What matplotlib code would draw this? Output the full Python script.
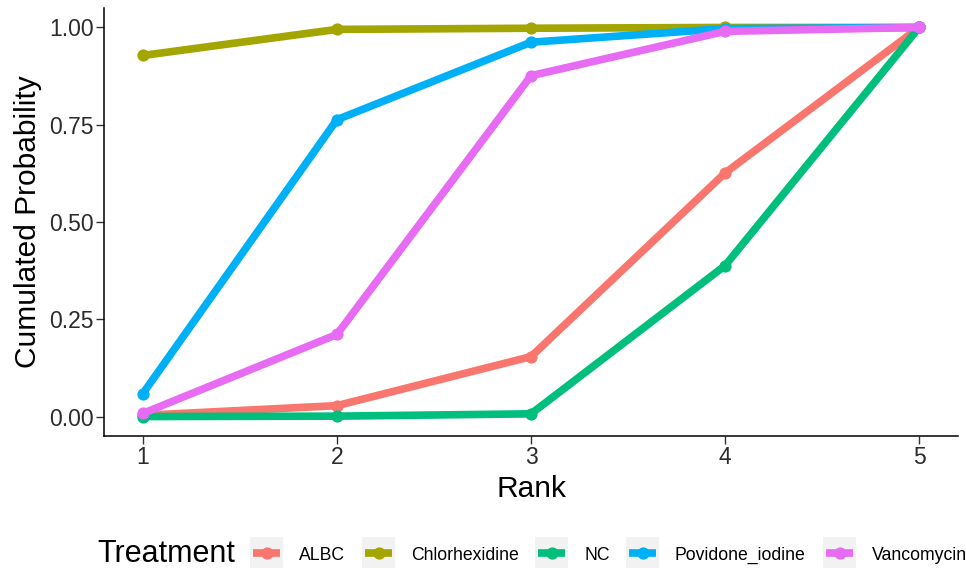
import matplotlib
matplotlib.use("Agg")
import matplotlib.pyplot as plt
from matplotlib.patches import Rectangle
from matplotlib.lines import Line2D

plt.rcParams['font.family'] = ['Liberation Sans', 'DejaVu Sans']

ranks = [1, 2, 3, 4, 5]
treatments = ["ALBC", "Chlorhexidine", "NC", "Povidone_iodine", "Vancomycin"]
albc = [0.003, 0.028, 0.154, 0.626, 1.0]
chlorhexidine = [0.928, 0.995, 0.998, 1.0, 1.0]
nc = [0.0, 0.001, 0.007, 0.388, 1.0]
povidone_iodine = [0.059, 0.763, 0.962, 0.997, 1.0]
vancomycin = [0.008, 0.211, 0.876, 0.990, 1.0]
series = [albc, chlorhexidine, nc, povidone_iodine, vancomycin]
colors = ["#F8766D", "#A3A500", "#00BF7D", "#00B0F6", "#E76BF3"]
yticks = [0.0, 0.25, 0.5, 0.75, 1.0]
ytick_labels = ["0.00", "0.25", "0.50", "0.75", "1.00"]

W, H = 966, 568
fig = plt.figure(figsize=(W / 100, H / 100), dpi=100)
fig.patch.set_facecolor("white")

def fx(x):
    return x / W

def fy(y):
    return 1 - y / H

ax = fig.add_axes([fx(104), fy(436), (958 - 104) / W, (436 - 8) / H])

LW = 5.5
MS = 7.8
for vals, col in zip(series, colors):
    ax.plot(ranks, vals, color=col, lw=LW, marker="o", ms=MS,
            solid_capstyle="butt", solid_joinstyle="round")

ax.set_xlim(0.8, 5.2)
ax.set_ylim(-0.05, 1.05)
ax.set_xticks(ranks)
ax.set_xticklabels([str(r) for r in ranks])
ax.set_yticks(yticks)
ax.set_yticklabels(ytick_labels)
for s in ["top", "right"]:
    ax.spines[s].set_visible(False)
for s in ["left", "bottom"]:
    ax.spines[s].set_linewidth(1.1)
    ax.spines[s].set_color("black")
ax.tick_params(axis="both", length=5.5, width=1.0, color="#333333",
               labelsize=16.5, labelcolor="#2b2b2b", pad=2)

fig.text(fx(28), fy(222), "Cumulated Probability", rotation=90,
         ha="center", va="center", fontsize=21.5, color="black")
fig.text(fx(531), fy(497), "Rank", ha="center", va="baseline",
         fontsize=21.5, color="black")

# legend
fig.text(fx(97), fy(562), "Treatment", ha="left", va="baseline",
         fontsize=22, color="black")
key_x = [250, 362, 535, 626, 823]
key_w, key_h = 33, 34
key_top = 537
for name, col, kx in zip(treatments, colors, key_x):
    fig.patches.append(Rectangle((fx(kx), fy(key_top + key_h)), key_w / W, key_h / H,
                                 transform=fig.transFigure, facecolor="#F2F2F2",
                                 edgecolor="none", zorder=1))
    cy = fy(key_top + 16)
    fig.lines.append(Line2D([fx(kx + 3), fx(kx + key_w - 3)], [cy, cy],
                            transform=fig.transFigure, color=col, lw=LW,
                            solid_capstyle="butt", zorder=2))
    fig.lines.append(Line2D([fx(kx + key_w / 2)], [cy], transform=fig.transFigure,
                            color=col, marker="o", ms=MS, lw=0, zorder=3))
    fig.text(fx(kx + key_w + 16), fy(560), name, ha="left", va="baseline",
             fontsize=12.7, color="black")

fig.savefig("out.png", dpi=100)
